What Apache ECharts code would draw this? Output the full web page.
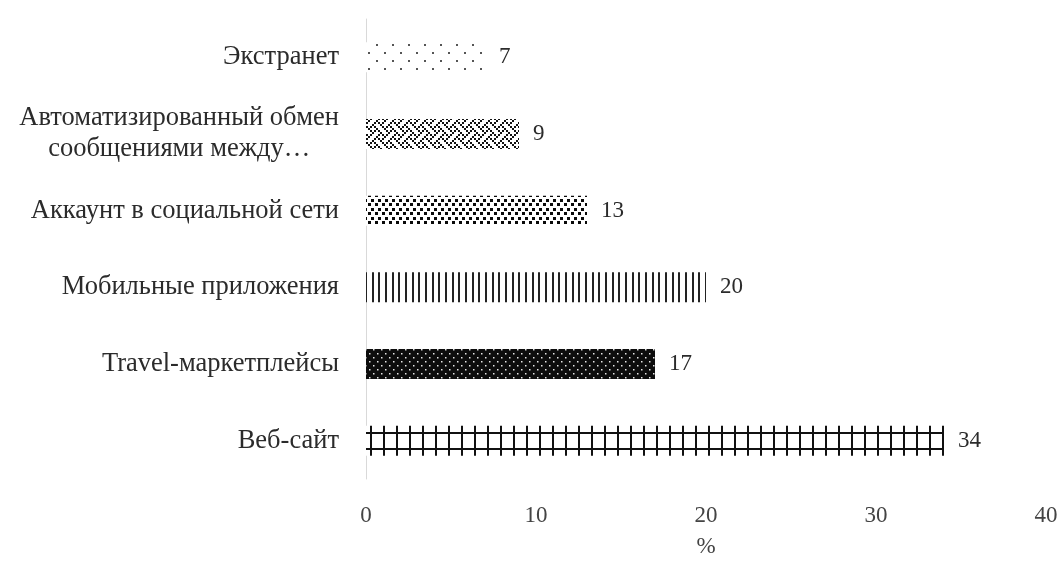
<!DOCTYPE html>
<html>
<head>
<meta charset="utf-8">
<script src="https://cdn.jsdelivr.net/npm/echarts@6/dist/echarts.min.js"></script>
<style>
  html, body { margin: 0; padding: 0; background: #ffffff; }
  #chart { width: 1061px; height: 563px; }
</style>
</head>
<body>
<div id="chart"></div>
<script>
// Channels, listed top to bottom
const categories = [
  'Экстранет',
  'Автоматизированный обмен\nсообщениями между…',
  'Аккаунт в социальной сети',
  'Мобильные приложения',
  'Travel-маркетплейсы',
  'Веб-сайт'
];
// Share of respondents, %
const values = [7, 9, 13, 20, 17, 34];
const xTicks = [0, 10, 20, 30, 40];
const axisName = '%';

const SERIF = '"Liberation Serif", "DejaVu Serif", serif';
const TEXT = '#2b2b2b';
const BAR_W = 30;

// --- fill patterns drawn on small canvases ---
function tile(w, h, draw) {
  const c = document.createElement('canvas');
  c.width = w; c.height = h;
  const g = c.getContext('2d');
  draw(g, w, h);
  return { image: c, repeat: 'repeat' };
}

// sparse dots
function dotsSparse() {
  return tile(16, 16, (g) => {
    g.fillStyle = '#ffffff'; g.fillRect(0, 0, 16, 16);
    g.fillStyle = '#555555';
    g.fillRect(0, 4, 2, 2);
    g.fillRect(8, 12, 2, 2);
  });
}

// weave
function weave() {
  const bits = [
    '10001000',
    '01010100',
    '00100010',
    '01000101',
    '10001000',
    '00010101',
    '00100010',
    '01010001'
  ];
  return tile(16, 16, (g) => {
    g.fillStyle = '#ffffff'; g.fillRect(0, 0, 16, 16);
    g.fillStyle = '#111111';
    bits.forEach((row, y) => {
      for (let x = 0; x < 8; x++) if (row[x] === '1') g.fillRect(x * 2, y * 2, 2, 2);
    });
  });
}

// dense black dots
function dotsDense() {
  return tile(7, 9, (g) => {
    g.fillStyle = '#ffffff'; g.fillRect(0, 0, 7, 9);
    g.fillStyle = '#0a0a0a';
    g.fillRect(0, 1, 3, 3);
    g.fillRect(4, 5, 3, 3);
  });
}

// vertical lines
function verticals() {
  return tile(20, 8, (g) => {
    g.fillStyle = '#ffffff'; g.fillRect(0, 0, 20, 8);
    g.fillStyle = '#222222';
    [5, 12, 18].forEach((x) => g.fillRect(x, 0, 2, 8));
  });
}

// black with white dots
function darkDots() {
  return tile(8, 8, (g) => {
    g.fillStyle = '#0d0d0d'; g.fillRect(0, 0, 8, 8);
    g.fillStyle = '#e6e6e6';
    g.fillRect(1, 1, 1.5, 1.5);
    g.fillRect(5, 5, 1.5, 1.5);
  });
}

// grid of vertical strokes crossed by two horizontal rules; offset keeps the rules inside the bar
function crossGrid(offsetY) {
  return tile(13, 16, (g) => {
    g.fillStyle = '#ffffff'; g.fillRect(0, 0, 13, 16);
    g.fillStyle = '#111111';
    g.fillRect(6, 0, 2, 16);
    const y = ((offsetY % 16) + 16) % 16;
    g.fillRect(0, y, 13, 2);
  });
}

function buildFills(gridOffset) {
  return [dotsSparse(), weave(), dotsDense(), verticals(), darkDots(), crossGrid(gridOffset)];
}

function labelFormatter(text) {
  return text.split('\n').map((s) => '{c|' + s + '}').join('\n');
}

const chart = echarts.init(document.getElementById('chart'), null, { renderer: 'canvas' });

function makeOption(fills) {
  return {
    animation: false,
    backgroundColor: '#ffffff',
    grid: { left: 366, right: 15, top: 19, bottom: 74, containLabel: false },
    xAxis: {
      type: 'value',
      min: xTicks[0],
      max: xTicks[xTicks.length - 1],
      interval: xTicks[1] - xTicks[0],
      axisLine: { show: false },
      axisTick: { show: false },
      splitLine: { show: false },
      axisLabel: { fontFamily: SERIF, fontSize: 23, color: '#444444', margin: 25 },
      name: axisName,
      nameLocation: 'middle',
      nameGap: 56,
      nameTextStyle: { fontFamily: SERIF, fontSize: 23, color: '#444444' }
    },
    yAxis: {
      type: 'category',
      data: categories,
      inverse: true,
      axisLine: { show: true, lineStyle: { color: '#d9d9d9', width: 1 } },
      axisTick: { show: false },
      axisLabel: {
        margin: 27,
        formatter: labelFormatter,
        rich: {
          c: { fontFamily: SERIF, fontSize: 26.5, color: TEXT, lineHeight: 31, align: 'center' }
        }
      }
    },
    series: [{
      type: 'bar',
      barWidth: BAR_W,
      data: values.map((v, i) => ({ value: v, itemStyle: { color: fills[i] } })),
      label: {
        show: true,
        position: 'right',
        distance: 14,
        fontFamily: SERIF,
        fontSize: 23,
        color: TEXT
      }
    }]
  };
}

chart.setOption(makeOption(buildFills(0)));
// place the horizontal rules of the last bar relative to its top edge
const lastCenterY = chart.convertToPixel({ yAxisIndex: 0 }, categories[categories.length - 1]);
const lastBarTop = Math.round(lastCenterY - BAR_W / 2);
chart.setOption(makeOption(buildFills(lastBarTop + 6)));
</script>
</body>
</html>
